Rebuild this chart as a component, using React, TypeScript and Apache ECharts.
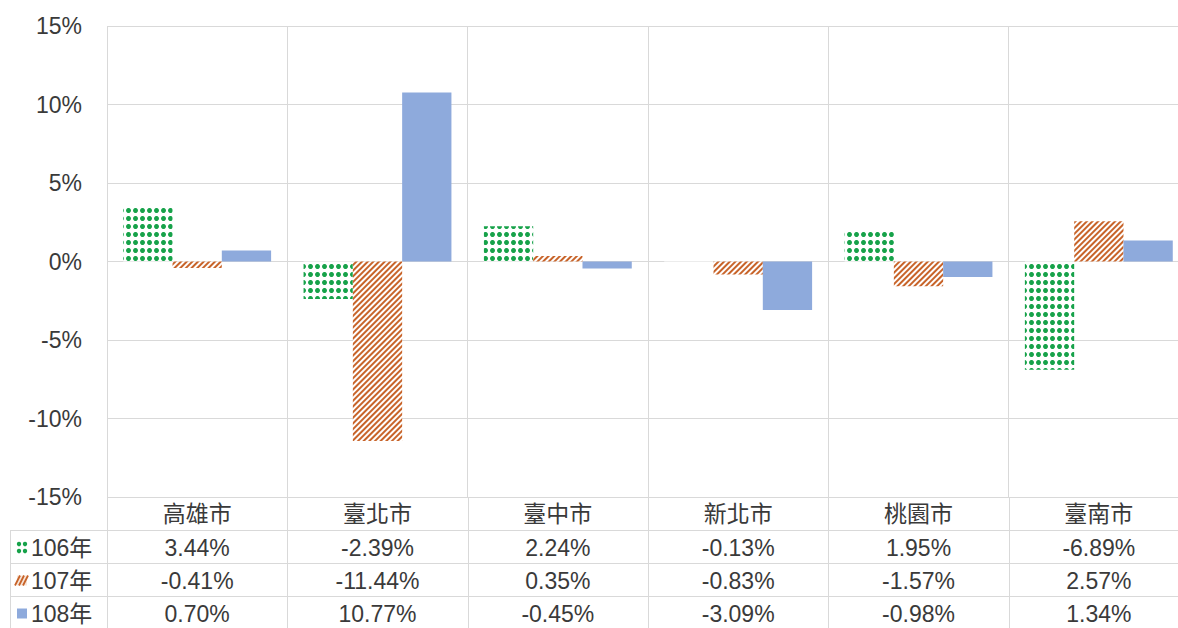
import React, { useEffect, useRef } from 'react';
import * as echarts from 'echarts';

const categories = ['高雄市', '臺北市', '臺中市', '新北市', '桃園市', '臺南市'];
const seriesNames = ['106年', '107年', '108年'];
const values106 = [3.44, -2.39, 2.24, -0.13, 1.95, -6.89];
const values107 = [-0.41, -11.44, 0.35, -0.83, -1.57, 2.57];
const values108 = [0.7, 10.77, -0.45, -3.09, -0.98, 1.34];
const yMin = -15;
const yMax = 15;
const yInterval = 5;

const W = 1178;
const H = 628;
const CW = 1200;
const FONT = '"Liberation Sans", Arial, "Noto Sans CJK TC", sans-serif';
const TEXT = '#3a3a3a';
const LINE = '#d9d9d9';
const GREEN = '#17a24a';
const ORANGE = '#c8642a';
const BLUE = '#8eaadc';

const GRID = { left: 107, top: 26, bottomY: 497, width: 1082 };
const ROW_TOPS = [530, 563, 596];
const ROW_H = 33;

export default function App() {
  const ref = useRef<HTMLDivElement>(null);
  useEffect(() => {
    if (!ref.current) return;
    const chart = echarts.init(ref.current, null, { renderer: 'svg', width: CW, height: H });
    chart.setOption({
      animation: false,
      backgroundColor: '#ffffff',
      grid: {
        left: GRID.left,
        top: GRID.top,
        width: GRID.width,
        bottom: H - GRID.bottomY,
        containLabel: false,
      },
      xAxis: {
        type: 'category',
        data: categories,
        axisLine: { show: false, onZero: false },
        axisTick: { show: false },
        axisLabel: { margin: 5, fontSize: 23, color: TEXT, fontFamily: FONT, interval: 0 },
        splitLine: { show: true, interval: 0, lineStyle: { color: LINE, width: 1 } },
      },
      yAxis: {
        type: 'value',
        min: yMin,
        max: yMax,
        interval: yInterval,
        axisLine: { show: false },
        axisTick: { show: false },
        axisLabel: { formatter: '{value}%', fontSize: 23, color: TEXT, fontFamily: FONT, margin: 25 },
        splitLine: { lineStyle: { color: LINE, width: 1 } },
      },
      series: [
        {
          name: seriesNames[0],
          type: 'bar',
          data: values106,
          barGap: '0%',
          barCategoryGap: '18%',
          itemStyle: {
            color: '#ffffff',
            decal: {
              symbol: 'circle',
              symbolSize: 1,
              color: GREEN,
              dashArrayX: [5, 2],
              dashArrayY: [5, 2.5],
            },
          },
        },
        {
          name: seriesNames[1],
          type: 'bar',
          data: values107,
          barGap: '0%',
          barCategoryGap: '18%',
          itemStyle: {
            color: '#ffffff',
            decal: {
              symbol: 'rect',
              symbolSize: 1,
              color: ORANGE,
              dashArrayX: [1, 0],
              dashArrayY: [2, 1.8],
              rotation: -Math.PI / 4,
            },
          },
        },
        {
          name: seriesNames[2],
          type: 'bar',
          data: values108,
          barGap: '0%',
          barCategoryGap: '18%',
          itemStyle: { color: BLUE },
        },
      ],
    });

    const centers = categories.map((c) => chart.convertToPixel({ xAxisIndex: 0 }, c) as number);
    const catW = centers.length > 1 ? centers[1] - centers[0] : 180;
    const rows = [values106, values107, values108];
    const graphics: any[] = [];
    ROW_TOPS.forEach((y) => {
      graphics.push({ type: 'line', shape: { x1: 10, y1: y + 0.5, x2: CW, y2: y + 0.5 }, style: { stroke: LINE, lineWidth: 1 } });
    });
    graphics.push({ type: 'line', shape: { x1: 10.5, y1: ROW_TOPS[0], x2: 10.5, y2: H }, style: { stroke: LINE, lineWidth: 1 } });
    for (let i = 0; i <= categories.length; i++) {
      const x = Math.round(centers[0] - catW / 2 + i * catW) + 0.5;
      graphics.push({ type: 'line', shape: { x1: x, y1: GRID.bottomY, x2: x, y2: H }, style: { stroke: LINE, lineWidth: 1 } });
    }
    rows.forEach((vals, r) => {
      const cy = ROW_TOPS[r] + ROW_H / 2 + 1;
      vals.forEach((v, i) => {
        graphics.push({
          type: 'text',
          x: centers[i],
          y: cy,
          style: { text: v.toFixed(2) + '%', fill: TEXT, font: `23px ${FONT}`, align: 'center', verticalAlign: 'middle' },
        });
      });
      graphics.push({
        type: 'text',
        x: 31,
        y: cy,
        style: { text: seriesNames[r], fill: TEXT, font: `23px ${FONT}`, align: 'left', verticalAlign: 'middle' },
      });
    });
    const y0 = ROW_TOPS[0] + ROW_H / 2 + 1;
    [[19, -3.5], [25, -3.5], [19, 3.5], [25, 3.5]].forEach(([x, dy]) => {
      graphics.push({ type: 'circle', shape: { cx: x, cy: y0 + dy, r: 2.2 }, style: { fill: GREEN } });
    });
    const y1 = ROW_TOPS[1] + ROW_H / 2 + 1;
    graphics.push({ type: 'rect', shape: { x: 17, y: y1 - 5, width: 10, height: 10 }, style: { fill: '#f8e6da' } });
    [0, 4, 8].forEach((o) => {
      graphics.push({
        type: 'line',
        shape: { x1: 15 + o, y1: y1 + 5, x2: 15 + o + 5, y2: y1 - 5 },
        style: { stroke: ORANGE, lineWidth: 1.8 },
      });
    });
    const y2 = ROW_TOPS[2] + ROW_H / 2 + 1;
    graphics.push({ type: 'rect', shape: { x: 17, y: y2 - 5, width: 10, height: 10 }, style: { fill: BLUE } });
    chart.setOption({ graphic: graphics });

    return () => chart.dispose();
  }, []);
  return (
    <div style={{ position: 'absolute', left: 0, top: 0, width: W, height: H, overflow: 'hidden' }}>
      <div ref={ref} style={{ width: CW, height: H }} />
    </div>
  );
}
